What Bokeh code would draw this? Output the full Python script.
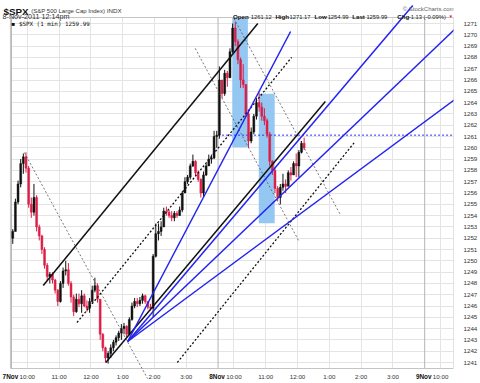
from bokeh.plotting import figure
from bokeh.models import Range1d, FixedTicker, ColumnDataSource
from bokeh.embed import file_html
from bokeh.resources import INLINE
from bokeh.core.properties import value

# ---------------- data (5-minute bars, minutes since 9:30 of each session) ----------------
day1_open = 1252.0
day1_close = [1252.6,1255.2,1256.8,1258.6,1259.2,1258.2,1255.0,1254.3,1255.6,1253.0,
              1252.2,1251.0,1249.6,1248.6,1248.8,1248.3,1247.4,1246.4,1248.0,1249.1,
              1249.2,1248.0,1246.8,1245.5,1246.6,1246.2,1246.9,1246.0,1245.8,1246.4,
              1247.4,1247.8,1246.6,1243.5,1242.3,1241.4,1241.8,1242.3,1242.8,1243.2,
              1243.6,1244.0,1244.2,1243.5,1244.8,1246.0,1246.4,1246.2,1246.5,1246.9,
              1246.4,1245.9,1245.8,1250.4,1252.4,1252.6,1253.0,1254.4,1254.3,1254.0,
              1253.8,1254.2,1254.0,1254.5,1256.0,1257.0,1257.4,1258.4,1258.8,1257.8,
              1257.2,1256.0,1257.6,1258.4,1259.0,1259.1,1261.0,1261.12]
day1_low = [1251.5,1252.6,1255.0,1256.5,1257.7,1257.8,1254.7,1253.8,1254.0,1252.6,
            1251.8,1250.6,1249.3,1248.2,1248.0,1248.0,1247.1,1246.0,1246.3,1247.6,
            1248.7,1247.8,1246.3,1245.1,1245.4,1245.9,1245.4,1245.9,1245.5,1245.4,
            1246.2,1247.2,1246.3,1243.0,1242.0,1241.0,1240.9,1241.4,1242.0,1242.5,
            1242.9,1243.0,1243.5,1243.2,1243.4,1244.7,1245.8,1245.9,1246.0,1246.2,
            1246.2,1245.7,1245.6,1245.0,1250.3,1251.8,1252.2,1253.0,1254.0,1253.8,
            1253.5,1253.5,1253.8,1254.0,1254.3,1256.5,1256.8,1257.2,1258.3,1257.5,
            1257.0,1255.6,1255.7,1257.5,1258.4,1258.6,1259.0,1260.0]
day1_high = [1252.8,1255.5,1257.1,1259.0,1259.5,1259.6,1258.4,1255.6,1256.8,1255.8,
             1253.2,1252.3,1251.2,1249.8,1249.0,1249.0,1248.4,1247.5,1248.2,1249.4,
             1250.0,1249.8,1248.2,1247.0,1247.1,1247.1,1247.4,1247.1,1246.5,1246.7,
             1247.8,1248.5,1248.0,1246.6,1243.6,1242.4,1242.0,1242.6,1243.0,1243.4,
             1243.8,1244.4,1244.5,1244.3,1245.0,1246.3,1246.7,1246.7,1246.8,1247.1,
             1247.0,1246.4,1246.2,1250.6,1253.3,1253.3,1253.5,1254.7,1254.8,1254.5,
             1254.4,1254.4,1254.4,1254.8,1256.2,1257.4,1257.6,1258.6,1259.4,1258.9,
             1258.0,1257.3,1257.9,1258.6,1259.4,1259.4,1261.5,1261.5]

day2_open = 1261.12
day2_close = [1266.0,1264.8,1266.6,1266.2,1268.5,1270.6,1269.4,1267.8,1266.0,1265.6,
              1263.0,1260.6,1261.4,1262.8,1264.0,1263.6,1262.8,1262.4,1261.2,1258.8,
              1258.0,1256.4,1255.6,1256.5,1256.8,1256.6,1257.8,1257.6,1258.6,1258.4,
              1259.6,1260.4,1259.99]
day2_low = [1260.8,1264.4,1264.6,1265.4,1266.2,1268.4,1269.0,1267.4,1265.3,1265.3,
            1262.8,1260.0,1260.4,1261.2,1262.5,1263.2,1262.4,1262.0,1260.9,1258.4,
            1257.6,1256.0,1255.3,1254.99,1256.2,1256.0,1256.6,1257.1,1257.7,1257.4,
            1257.4,1259.5,1259.8]
day2_high = [1267.2,1266.0,1266.9,1266.8,1268.8,1271.0,1271.17,1269.6,1268.0,1267.4,
             1265.6,1263.2,1261.8,1263.0,1264.4,1264.9,1264.0,1263.5,1262.6,1261.4,
             1258.9,1258.2,1256.6,1256.8,1257.7,1257.2,1258.0,1258.3,1258.8,1259.5,
             1259.8,1260.6,1260.9]

prev_close = 1261.12

# highlighted boxes (continuous minutes, price)
box_t0 = [416.8, 466.9]
box_t1 = [446.3, 496.9]
box_p0 = [1260.05, 1253.33]
box_p1 = [1271.53, 1264.78]

# trend lines: start/end (continuous minutes, price)
solid_t0 = [60.0, 178.1]
solid_p0 = [1247.81, 1241.0]
solid_t1 = [465.0, 592.5]
solid_p1 = [1271.0, 1264.1]

bdash_t0 = [123.8, 313.1]
bdash_p0 = [1244.54, 1241.0]
bdash_t1 = [528.8, 648.8]
bdash_p1 = [1268.0, 1260.56]

fan_t0 = [219.4, 219.4, 219.4, 219.4]
fan_p0 = [1242.86, 1242.86, 1242.86, 1242.86]
fan_t1 = [526.9, 757.5, 879.4, 879.4]
fan_p1 = [1270.29, 1272.6, 1272.39, 1265.75]

gray_t0 = [24.4, 420.0, 346.9]
gray_p0 = [1259.58, 1271.44, 1268.8]
gray_t1 = [256.9, 620.6, 541.9]
gray_p1 = [1239.58, 1254.1, 1251.8]

ytick_vals = list(range(1241, 1272))
hour_labels = ["10:00", "11:00", "12:00", "1:00", "2:00", "3:00"]
day_labels = ["7Nov", "8Nov", "9Nov"]

# ---------------- geometry helpers (pixel -> data, for layout only) ----------------
SESSION = 390
PX_PER_MIN = 208.0 / SESSION
PX_PER_PT = 11.3

def fx(px):
    return (px - 11) / PX_PER_MIN

def fy(py):
    return 1241 + (362 - py) / PX_PER_PT

X_LO, X_HI = fx(0), fx(456)
Y_LO, Y_HI = fy(383), fy(0)
FR_L, FR_B, FR_T = fx(10), fy(368), fy(17)

# ---------------- bars ----------------
def bars(offset, o0, closes, lows, highs):
    xs, tops, bots, los, his, cols = [], [], [], [], [], []
    o = o0
    for k, c in enumerate(closes):
        xs.append(offset + 5 * k + 2.5)
        tops.append(max(o, c))
        bots.append(min(o, c))
        los.append(min(lows[k], o, c))
        his.append(max(highs[k], o, c))
        cols.append("#111111" if c >= o else "#dc1e46")
        o = c
    return xs, tops, bots, los, his, cols

x1, t1, b1, l1, h1, c1 = bars(0, day1_open, day1_close, day1_low, day1_high)
x2, t2, b2, l2, h2, c2 = bars(SESSION, day2_open, day2_close, day2_low, day2_high)
src = ColumnDataSource(dict(x=x1 + x2, top=t1 + t2, bot=b1 + b2, lo=l1 + l2,
                            hi=h1 + h2, col=c1 + c2))

p = figure(width=480, height=383, output_backend="svg", toolbar_location=None,
           x_range=Range1d(X_LO, X_HI), y_range=Range1d(Y_LO, Y_HI),
           min_border_left=0, min_border_right=24, min_border_top=0,
           min_border_bottom=0, y_axis_location="right", x_axis_location=None)
p.background_fill_color = "white"
p.border_fill_color = "white"
p.outline_line_color = None

hour_ticks, hour_text = [], []
for d in range(3):
    for h in range(6):
        t = d * SESSION + 30 + 60 * h
        if t < X_HI - 10:
            hour_ticks.append(t)
            hour_text.append(hour_labels[h])
day_ticks = [0, SESSION, 2 * SESSION]

p.xgrid.ticker = FixedTicker(ticks=hour_ticks)
p.xgrid.grid_line_color = "#e4e4e4"
p.ygrid.ticker = FixedTicker(ticks=ytick_vals)
p.ygrid.grid_line_color = "#e4e4e4"

p.yaxis.ticker = FixedTicker(ticks=ytick_vals)
ax = p.yaxis[0]
ax.major_label_text_font = "Liberation Sans"
ax.major_label_text_font_size = "6.2px"
ax.major_label_text_color = "#333333"
ax.axis_line_color = None
ax.major_tick_line_color = None
ax.minor_tick_line_color = None
ax.major_label_standoff = 4

# white masks around the plotting frame (header / x-label strip / left margin)
p.quad(left=[X_LO, X_LO, X_LO], right=[X_HI, X_HI, FR_L],
       bottom=[FR_T, Y_LO, Y_LO], top=[Y_HI, FR_B, Y_HI],
       fill_color="white", line_color=None)

# day separators
p.segment(x0=day_ticks, y0=[FR_B] * 3, x1=day_ticks, y1=[FR_T] * 3,
          line_color="#b4b4b4", line_width=1)

# highlight boxes
p.quad(left=box_t0, right=box_t1, bottom=box_p0, top=box_p1,
       fill_color="#8ec4f0", line_color=None, fill_alpha=0.95)

# previous close dashed line
p.segment(x0=[SESSION], y0=[prev_close], x1=[X_HI], y1=[prev_close],
          line_color="#3030ff", line_dash="2 2", line_width=1)

# candles
p.segment(x0="x", y0="lo", x1="x", y1="hi", line_color="col", line_width=1, source=src)
p.vbar(x="x", width=3.6, top="top", bottom="bot", fill_color="col", line_color="col",
       line_width=0.5, source=src)

# frame border
p.quad(left=[FR_L], right=[X_HI], bottom=[FR_B], top=[FR_T], fill_color=None,
       line_color="#c4c4c4", line_width=1)

# trend lines
p.segment(x0=gray_t0, y0=gray_p0, x1=gray_t1, y1=gray_p1, line_color="#555555",
          line_dash="2 2", line_width=0.8)
p.segment(x0=bdash_t0, y0=bdash_p0, x1=bdash_t1, y1=bdash_p1, line_color="#111111",
          line_dash="2 2", line_width=1.3)
p.segment(x0=solid_t0, y0=solid_p0, x1=solid_t1, y1=solid_p1, line_color="#111111",
          line_width=1.5)
p.segment(x0=fan_t0, y0=fan_p0, x1=fan_t1, y1=fan_p1, line_color="#2323f0",
          line_width=1.5)

# ---------------- text ----------------
def txt(items, size="6px", bold=False, color="#222222", font="Liberation Sans",
        align="left", baseline="alphabetic"):
    p.text(x=[fx(a[1]) for a in items], y=[fy(a[2]) for a in items],
           text=[a[0] for a in items], text_font=value(font), text_font_size=size,
           text_font_style="bold" if bold else "normal", text_color=color,
           text_align=align, text_baseline=baseline)

# x tick labels
p.text(x=hour_ticks, y=[fy(375.5)] * len(hour_ticks), text=hour_text,
       text_font=value("Liberation Sans"), text_font_size="6.2px", text_color="#333333",
       text_align="center", text_baseline="alphabetic")
p.text(x=day_ticks, y=[fy(375.5)] * 3, text=day_labels, x_offset=-1,
       text_font=value("Liberation Sans"), text_font_size="6.4px", text_font_style="bold",
       text_color="#111111", text_align="center", text_baseline="alphabetic")

txt([("$SPX", 3, 10.8)], size="9.8px", bold=True, color="#111111")
txt([("(S&P 500 Large Cap Index)", 31, 10.3)], size="6px", color="#333333")
txt([("INDX", 107, 10.3)], size="6.2px", color="#333333")
txt([("8-Nov-2011 12:14pm", 2, 16.3)], size="7.2px", color="#333333")
txt([("\u00a9 StockCharts.com", 457, 8.3)], size="6px", color="#666666", align="right")

txt([("Open", 234, 16), ("High", 276.7, 16), ("Low", 316, 16), ("Last", 354, 16),
     ("Chg", 399.3, 16)], size="6.2px", bold=True, color="#111111")
txt([("1261.12", 252, 16), ("1271.17", 291, 16), ("1254.99", 329.3, 16),
     ("1259.99", 368.3, 16), ("-1.13 (-0.09%)", 411, 16)], size="5.8px", color="#222222")
txt([("\u25bc", 451, 15.5)], size="4.5px", color="#e0103c")

txt([("\u25a0", 11, 23.5)], size="6px", color="#111111")
txt([("$SPX (1 min) 1259.99", 18.5, 23.5)], size="5.9px", color="#111111",
    font="DejaVu Sans Mono")

open("out.html", "w").write(file_html(p, INLINE))
